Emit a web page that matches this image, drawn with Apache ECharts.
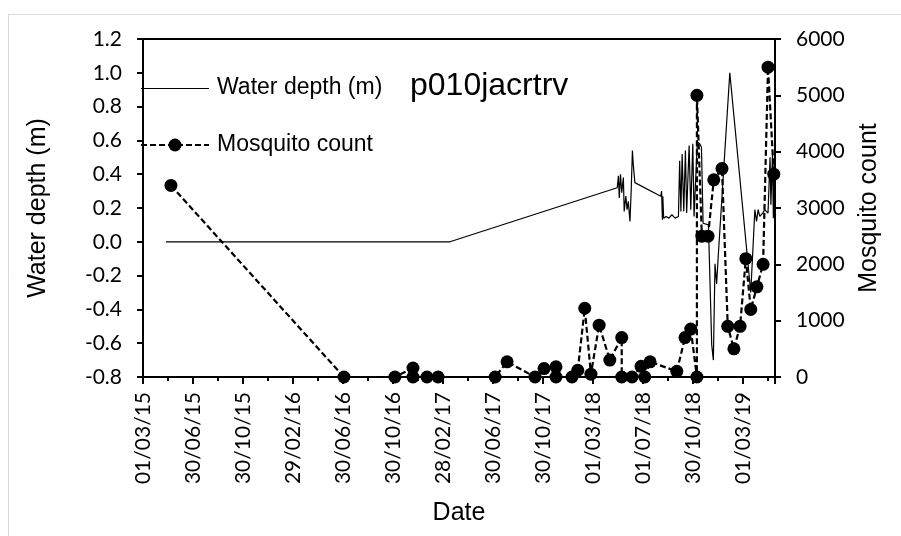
<!DOCTYPE html>
<html>
<head>
<meta charset="utf-8">
<script src="https://cdn.jsdelivr.net/npm/echarts@6/dist/echarts.min.js"></script>
<style>
  html, body { margin: 0; padding: 0; background: #fff; }
  #chart { width: 901px; height: 536px; }
</style>
</head>
<body>
<div id="chart"></div>
<script>
// Date axis tick labels (every 365/3 days from 1 March 2015)
const dateTickLabels = ['01/03/15', '30/06/15', '30/10/15', '29/02/16', '30/06/16', '30/10/16',
  '28/02/17', '30/06/17', '30/10/17', '01/03/18', '01/07/18', '30/10/18', '01/03/19'];
const depthTicks = [-0.8, -0.6, -0.4, -0.2, 0.0, 0.2, 0.4, 0.6, 0.8, 1.0, 1.2];
const countTicks = [0, 1000, 2000, 3000, 4000, 5000, 6000];

// Water depth logger readings (m)
const waterDates = ['2015-04-26', '2017-03-17', '2018-04-28', '2018-05-01', '2018-05-03', '2018-05-06',
  '2018-05-09', '2018-05-13', '2018-05-15', '2018-05-19', '2018-05-22', '2018-05-25', '2018-05-29',
  '2018-06-01', '2018-06-04', '2018-06-06', '2018-06-10', '2018-08-12', '2018-08-14', '2018-08-16',
  '2018-08-17', '2018-08-19', '2018-08-25', '2018-09-01', '2018-09-08', '2018-09-16', '2018-09-24',
  '2018-09-27', '2018-09-30', '2018-10-03', '2018-10-07', '2018-10-11', '2018-10-14', '2018-10-20',
  '2018-10-24', '2018-10-29', '2018-11-01', '2018-11-09', '2018-11-15', '2018-11-19', '2018-11-23',
  '2018-12-06', '2018-12-14', '2018-12-18', '2018-12-22', '2018-12-26', '2018-12-30', '2019-01-27',
  '2019-03-19', '2019-03-29', '2019-04-02', '2019-04-06', '2019-04-10', '2019-04-17', '2019-04-22',
  '2019-04-30', '2019-05-05', '2019-05-07', '2019-05-11', '2019-05-13', '2019-05-15'];
const waterDepth = [0.00, 0.00, 0.32, 0.39, 0.26, 0.40,
  0.29, 0.38, 0.18, 0.27, 0.19, 0.24, 0.12,
  0.30, 0.54, 0.46, 0.35, 0.27, 0.30, 0.13,
  0.27, 0.14, 0.15, 0.14, 0.16, 0.14, 0.15,
  0.48, 0.18, 0.52, 0.18, 0.54, 0.17, 0.57,
  0.19, 0.58, 0.15, 0.59, 0.58, 0.56, 0.11,
  0.10, -0.61, -0.70, -0.13, -0.25, -0.08, 1.00,
  -0.30, 0.19, 0.12, 0.19, 0.15, 0.17, 0.19,
  0.17, 0.50, 0.22, 0.52, 0.14, 0.46];

// Mosquito trap counts
const mosquitoDates = ['2015-05-08', '2016-07-02', '2016-11-03', '2016-12-17', '2016-12-17', '2017-01-20',
  '2017-02-16', '2017-07-05', '2017-08-03', '2017-10-10', '2017-11-01', '2017-11-30', '2017-11-30',
  '2018-01-08', '2018-01-22', '2018-02-08', '2018-02-23', '2018-03-15', '2018-04-10', '2018-05-09',
  '2018-05-09', '2018-06-03', '2018-06-25', '2018-07-04', '2018-07-17', '2018-09-20', '2018-10-10',
  '2018-10-24', '2018-11-08', '2018-11-08', '2018-11-20', '2018-12-05', '2018-12-19', '2019-01-08',
  '2019-01-22', '2019-02-06', '2019-02-21', '2019-03-07', '2019-03-19', '2019-04-03', '2019-04-18',
  '2019-04-30', '2019-05-14'];
const mosquitoCount = [3400, 0, 0, 160, 0, 0,
  0, 0, 270, 0, 150, 180, 0,
  0, 120, 1220, 50, 920, 300, 700,
  0, 0, 190, 0, 270, 100, 700,
  850, 0, 5000, 2500, 2500, 3500, 3700,
  900, 500, 900, 2100, 1200, 1600, 2000,
  5500, 3600];

// Days counted from the axis origin, 1 March 2015
const ORIGIN = Date.UTC(2015, 2, 1);
const TICK_DAYS = 365 / 3;
function dayOf(s) {
  const p = s.split('-').map(Number);
  return (Date.UTC(p[0], p[1] - 1, p[2]) - ORIGIN) / 86400000;
}
const waterData = waterDates.map((d, i) => [dayOf(d), waterDepth[i]]);
const mosquitoData = mosquitoDates.map((d, i) => [dayOf(d), mosquitoCount[i]]);

const tickFont = 'Lato, "Liberation Sans", sans-serif';
const textFont = '"Liberation Sans", Arial, sans-serif';
const legendText = { fontFamily: textFont, fontSize: 23, fill: '#000', textVerticalAlign: 'middle' };

const chart = echarts.init(document.getElementById('chart'), null, { renderer: 'canvas' });
chart.setOption({
  backgroundColor: '#ffffff',
  animation: false,
  title: {
    text: 'p010jacrtrv',
    left: 405, top: 65,
    textStyle: { fontFamily: textFont, fontSize: 32, fontWeight: 'normal', color: '#000' }
  },
  graphic: [
    // chart area frame
    { type: 'rect', silent: true, z: -10,
      shape: { x: 8.5, y: 14.5, width: 1000, height: 1000 },
      style: { fill: 'none', stroke: '#d9d9d9', lineWidth: 1 } },
    // key: water depth
    { type: 'line', silent: true, z: 10,
      shape: { x1: 141, y1: 88.5, x2: 209, y2: 88.5 },
      style: { stroke: '#000', lineWidth: 1.2 } },
    { type: 'text', silent: true, z: 10, x: 217, y: 88,
      style: Object.assign({ text: 'Water depth (m)' }, legendText) },
    // key: mosquito count
    { type: 'line', silent: true, z: 10,
      shape: { x1: 141, y1: 145, x2: 209, y2: 145 },
      style: { stroke: '#000', lineWidth: 2.2, lineDash: [6, 3] } },
    { type: 'circle', silent: true, z: 11,
      shape: { cx: 175, cy: 145, r: 6.5 },
      style: { fill: '#000' } },
    { type: 'text', silent: true, z: 10, x: 217, y: 145,
      style: Object.assign({ text: 'Mosquito count' }, legendText) }
  ],
  grid: {
    left: 143, right: 126, top: 39, bottom: 159,
    show: true, borderColor: '#000', borderWidth: 2, backgroundColor: 'transparent'
  },
  xAxis: {
    type: 'value',
    min: 0, max: 1538, interval: TICK_DAYS,
    name: 'Date', nameLocation: 'middle', nameGap: 124,
    nameTextStyle: { fontFamily: textFont, fontSize: 25, color: '#000' },
    axisLine: { onZero: false, lineStyle: { color: '#000', width: 2 } },
    axisTick: { show: true, inside: false, length: 7, lineStyle: { color: '#000', width: 2 } },
    minorTick: { show: true, splitNumber: 2, length: 4, lineStyle: { color: '#000', width: 2 } },
    splitLine: { show: false },
    axisLabel: {
      rotate: 90, margin: 15,
      fontFamily: tickFont, fontSize: 21, color: '#000',
      showMaxLabel: false,
      formatter: function (v) {
        const k = Math.round(v / TICK_DAYS);
        return Math.abs(v - k * TICK_DAYS) < 0.5 && dateTickLabels[k] ? dateTickLabels[k] : '';
      }
    }
  },
  yAxis: [{
    type: 'value',
    min: depthTicks[0], max: depthTicks[depthTicks.length - 1], interval: 0.2,
    name: 'Water depth (m)', nameLocation: 'middle', nameGap: 92,
    nameTextStyle: { fontFamily: textFont, fontSize: 25, color: '#000' },
    axisLine: { show: true, onZero: false, lineStyle: { color: '#000', width: 2 } },
    axisTick: { show: true, length: 6, lineStyle: { color: '#000', width: 2 } },
    splitLine: { show: false },
    axisLabel: {
      margin: 21, fontFamily: tickFont, fontSize: 21, color: '#000',
      formatter: v => v.toFixed(1)
    }
  }, {
    type: 'value', position: 'right',
    min: countTicks[0], max: countTicks[countTicks.length - 1], interval: 1000,
    name: 'Mosquito count', nameLocation: 'middle', nameGap: 82,
    nameTextStyle: { fontFamily: textFont, fontSize: 25, color: '#000' },
    axisLine: { show: true, onZero: false, lineStyle: { color: '#000', width: 2 } },
    axisTick: { show: true, length: 6, lineStyle: { color: '#000', width: 2 } },
    splitLine: { show: false },
    axisLabel: {
      margin: 21, fontFamily: tickFont, fontSize: 21, color: '#000',
      formatter: v => String(Math.round(v))
    }
  }],
  series: [{
    name: 'Water depth (m)',
    type: 'line',
    yAxisIndex: 0,
    data: waterData,
    symbol: 'none',
    lineStyle: { color: '#000', width: 1.2 },
    itemStyle: { color: '#000' },
    z: 2
  }, {
    name: 'Mosquito count',
    type: 'line',
    yAxisIndex: 1,
    data: mosquitoData,
    symbol: 'circle', symbolSize: 13,
    lineStyle: { color: '#000', width: 2.2, type: [6, 3] },
    itemStyle: { color: '#000' },
    z: 3
  }]
});
</script>
</body>
</html>
